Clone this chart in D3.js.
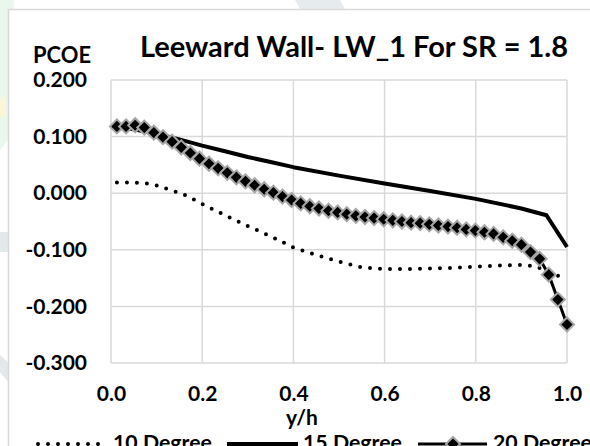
<!DOCTYPE html>
<html>
<head>
<meta charset="utf-8">
<script src="https://cdn.jsdelivr.net/npm/d3@7"></script>
<style>
  html, body { margin: 0; padding: 0; background: #fff; }
  svg { display: block; }
  text { font-family: Lato, "Open Sans", sans-serif; font-weight: bold; fill: #000; }
</style>
</head>
<body>
<svg id="chart" width="590" height="446"></svg>
<script>
// ---------- data ----------
const title = "Leeward Wall- LW_1 For SR = 1.8";
const yAxisTitle = "PCOE";
const xAxisTitle = "y/h";
const seriesNames = ["10 Degree", "15 Degree", "20 Degree"];
const xTicks = [0.0, 0.2, 0.4, 0.6, 0.8, 1.0];
const yTicks = [-0.3, -0.2, -0.1, 0.0, 0.1, 0.2];

const x10 = [0.013, 0.05, 0.08, 0.11, 0.13, 0.155, 0.2, 0.25, 0.3, 0.35, 0.4, 0.45, 0.5, 0.55, 0.6, 0.65, 0.7, 0.75, 0.8, 0.85, 0.9, 0.93, 0.955, 0.99, 1.0];
const y10 = [0.019, 0.019, 0.017, 0.012, 0.005, 0.000, -0.019, -0.039, -0.058, -0.076, -0.096, -0.109, -0.121, -0.131, -0.134, -0.134, -0.133, -0.132, -0.130, -0.128, -0.127, -0.129, -0.137, -0.149, -0.152];

const x15 = [0.013, 0.05, 0.1, 0.15, 0.2, 0.25, 0.3, 0.35, 0.4, 0.5, 0.6, 0.7, 0.8, 0.9, 0.955, 1.0];
const y15 = [0.116, 0.113, 0.105, 0.095, 0.084, 0.074, 0.064, 0.055, 0.046, 0.031, 0.017, 0.004, -0.010, -0.027, -0.039, -0.095];

const x20 = [0.013, 0.033, 0.053, 0.073, 0.094, 0.114, 0.134, 0.154, 0.174, 0.194,
             0.215, 0.235, 0.255, 0.275, 0.295, 0.315, 0.336, 0.356, 0.376, 0.396,
             0.416, 0.436, 0.456, 0.477, 0.497, 0.517, 0.537, 0.557, 0.577, 0.598,
             0.618, 0.638, 0.658, 0.678, 0.698, 0.718, 0.739, 0.759, 0.779, 0.799,
             0.819, 0.839, 0.860, 0.880, 0.900, 0.920, 0.940, 0.960, 0.980, 1.000];
const y20 = [0.118, 0.118, 0.120, 0.116, 0.107, 0.099, 0.091, 0.081, 0.071, 0.061,
             0.052, 0.044, 0.036, 0.028, 0.021, 0.014, 0.007, 0.001, -0.006, -0.012,
             -0.018, -0.023, -0.027, -0.031, -0.034, -0.037, -0.040, -0.042, -0.044, -0.046,
             -0.048, -0.050, -0.052, -0.053, -0.055, -0.057, -0.059, -0.061, -0.064, -0.066,
             -0.069, -0.072, -0.078, -0.084, -0.091, -0.104, -0.116, -0.144, -0.188, -0.232];

// ---------- layout ----------
const svg = d3.select("#chart");
const W = 590, H = 446;
const plot = { left: 111, right: 567, top: 80, bottom: 363 };

const x = d3.scaleLinear().domain([0, 1]).range([plot.left, plot.right]);
const y = d3.scaleLinear().domain([-0.3, 0.2]).range([plot.bottom, plot.top]);

// faint background (watermark outside chart frame)
svg.append("rect").attr("x", 0).attr("y", 0).attr("width", W).attr("height", H).attr("fill", "#fff");
svg.append("path").attr("d", "M0,0 L14,0 L8,140 L0,150 Z").attr("fill", "#eaf7ec");
svg.append("path").attr("d", "M0,100 L5,95 L6,115 L0,118 Z").attr("fill", "#fbf6d8");
svg.append("path").attr("d", "M295,0 L340,0 L345,9 L300,9 Z").attr("fill", "#e6ebee");
svg.append("path").attr("d", "M0,232 L8,232 L8,252 L0,252 Z").attr("fill", "#e3e8eb");
svg.append("path").attr("d", "M0,355 L8,362 L8,382 L0,372 Z").attr("fill", "#e3e8eb");

// chart frame
svg.append("rect").attr("x", 8.5).attr("y", 9.5).attr("width", 600).attr("height", 460)
  .attr("fill", "#fff").attr("stroke", "#d9d9d9").attr("stroke-width", 1.5);

// gridlines
const grid = svg.append("g").attr("stroke", "#d9d9d9").attr("stroke-width", 1.5);
grid.selectAll("line.h").data(yTicks).join("line")
  .attr("x1", plot.left).attr("x2", plot.right)
  .attr("y1", d => y(d)).attr("y2", d => y(d));
grid.selectAll("line.v").data(xTicks).join("line")
  .attr("x1", d => x(d)).attr("x2", d => x(d))
  .attr("y1", plot.top).attr("y2", plot.bottom);

// axes
const f3 = d3.format(".3f"), f1 = d3.format(".1f");
const hyphen = s => s.replace("\u2212", "-");
const yAxis = d3.axisLeft(y).tickValues(yTicks).tickSize(0).tickPadding(24).tickFormat(d => hyphen(f3(d)));
const gy = svg.append("g").attr("transform", `translate(${plot.left},0)`).call(yAxis);
gy.select(".domain").remove();
gy.selectAll("text").style("font-size", "21px").attr("fill", "#000");

const xAxis = d3.axisBottom(x).tickValues(xTicks).tickSize(0).tickPadding(23).tickFormat(d => hyphen(f1(d)));
const gx = svg.append("g").attr("transform", `translate(0,${plot.bottom})`).call(xAxis);
gx.select(".domain").remove();
gx.selectAll("text").style("font-size", "21px").attr("fill", "#000");

// series
const line = d3.line().x(d => x(d[0])).y(d => y(d[1]));
const d10 = x10.map((v, i) => [v, y10[i]]);
const d15 = x15.map((v, i) => [v, y15[i]]);
const d20 = x20.map((v, i) => [v, y20[i]]);

svg.append("path").datum(d10).attr("d", line)
  .attr("fill", "none").attr("stroke", "#000").attr("stroke-width", 4)
  .attr("stroke-linecap", "round").attr("stroke-dasharray", "0 10");

svg.append("path").datum(d15).attr("d", line)
  .attr("fill", "none").attr("stroke", "#000").attr("stroke-width", 4)
  .attr("stroke-linejoin", "round");

svg.append("path").datum(d20).attr("d", line)
  .attr("fill", "none").attr("stroke", "#000").attr("stroke-width", 3);

const diamond = d3.symbol().type(d3.symbolSquare).size(98)();
svg.append("g").selectAll("path").data(d20).join("path")
  .attr("d", diamond)
  .attr("transform", d => `translate(${x(d[0])},${y(d[1])}) rotate(45)`)
  .attr("fill", "#000").attr("stroke", "#a6a6a6").attr("stroke-width", 2);

// titles
function fitText(sel, len) {
  sel.attr("textLength", len).attr("lengthAdjust", "spacingAndGlyphs");
}
svg.append("text").attr("x", 140).attr("y", 57).style("font-size", "28px").text(title)
  .call(fitText, 428);
svg.append("text").attr("x", 33).attr("y", 63).style("font-size", "22px").text(yAxisTitle)
  .call(fitText, 58);
svg.append("text").attr("x", 302).attr("y", 425).attr("text-anchor", "middle")
  .style("font-size", "21px").text(xAxisTitle);

// legend
const legY = 444;
const leg = svg.append("g");
leg.append("line").attr("x1", 38).attr("x2", 100).attr("y1", legY).attr("y2", legY)
  .attr("stroke", "#000").attr("stroke-width", 4).attr("stroke-linecap", "round").attr("stroke-dasharray", "0 10");
leg.append("text").attr("x", 113).attr("y", 450).style("font-size", "21px").text(seriesNames[0]).call(fitText, 99);
leg.append("line").attr("x1", 227).attr("x2", 298).attr("y1", legY).attr("y2", legY)
  .attr("stroke", "#000").attr("stroke-width", 4);
leg.append("text").attr("x", 303).attr("y", 450).style("font-size", "21px").text(seriesNames[1]).call(fitText, 99);
leg.append("line").attr("x1", 418).attr("x2", 487).attr("y1", legY).attr("y2", legY)
  .attr("stroke", "#000").attr("stroke-width", 3);
leg.append("path").attr("d", diamond).attr("transform", `translate(453,${legY}) rotate(45)`)
  .attr("fill", "#000").attr("stroke", "#a6a6a6").attr("stroke-width", 2);
leg.append("text").attr("x", 493).attr("y", 450).style("font-size", "21px").text(seriesNames[2]).call(fitText, 99);
</script>
</body>
</html>
